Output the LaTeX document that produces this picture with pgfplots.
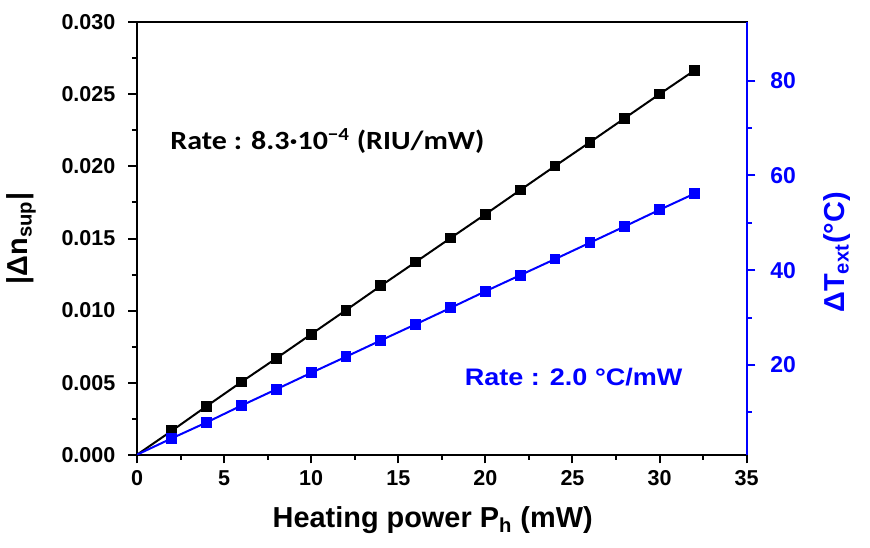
\documentclass[border=0pt]{standalone}
\usepackage{fontspec}
\setmainfont{Liberation Sans}
\newfontfamily\carlito[FakeStretch=1.14]{Carlito}
\newfontfamily\widearial[FakeStretch=1.13]{Liberation Sans}
\usepackage{pgfplots}
\pgfplotsset{compat=1.18}

\pgfplotstableread{
x y
0 0
2 0.00166
4 0.00337
6 0.00505
8 0.00669
10 0.00836
12 0.01003
14 0.01172
16 0.01337
18 0.01503
20 0.01668
22 0.01836
24 0.02003
26 0.02168
28 0.02335
30 0.02502
32 0.02666
}\nsup

\pgfplotstableread{
x t
0 1.08
2 4.54
4 7.90
6 11.45
8 14.88
10 18.35
12 21.75
14 25.20
16 28.60
18 32.05
20 35.55
22 38.95
24 42.35
26 45.80
28 49.25
30 52.75
32 56.15
}\text

\begin{document}
\begin{tikzpicture}
\begin{axis}[
  name=main,
  scale only axis, width=304.85bp, height=216.2bp,
  xmin=0, xmax=35, ymin=0, ymax=0.03,
  xtick={0,5,10,15,20,25,30,35},
  ytick={0,0.005,0.010,0.015,0.020,0.025,0.030},
  minor x tick num=1, minor y tick num=1,
  xtick pos=bottom, ytick pos=left, tick align=outside,
  major tick length=4.3bp, minor tick length=2.6bp,
  axis line style={line width=1bp, -},
  every tick/.append style={black, line width=1bp},
  scaled y ticks=false,
  yticklabel style={xshift=-3bp, /pgf/number format/.cd, fixed, fixed zerofill, precision=3},
  /pgf/number format/assume math mode=true,
  tick label style={font=\fontsize{10.8}{12}\selectfont\bfseries},
  xlabel={Heating power P\textsubscript{h} (mW)},
  ylabel={|Δn\textsubscript{sup}|},
  label style={font=\fontsize{14.5}{16}\selectfont\bfseries},
  xlabel style={at={(axis description cs:0.485,0)}, anchor=base, yshift=-36.5bp},
  ylabel style={at={(axis description cs:-0.19,0.5)}, anchor=center},
  clip=false,
]
\coordinate (sw) at (rel axis cs:0,0);
\coordinate (ne) at (rel axis cs:1,1);
\addplot[black, line width=1bp, mark=square*, mark size=2.2bp, mark indices={2,...,17}]
  table[x=x, y=y] {\nsup};
\node[anchor=west, font=\carlito\fontsize{13.2}{15}\selectfont\bfseries, inner sep=0pt]
  at (axis cs:1.9,0.02177) {Rate : 8.3·10\textsuperscript{−4} (RIU/mW)};
\node[anchor=west, font=\widearial\fontsize{12}{14}\selectfont\bfseries, text=blue, inner sep=0pt]
  at (axis cs:18.8,0.00539) {Rate : 2.0 °C/mW};
\end{axis}

\begin{axis}[
  scale only axis, width=304.85bp, height=216.2bp,
  xmin=0, xmax=35, ymin=1.08, ymax=92.3,
  axis x line=none, axis y line*=right,
  ytick={20,40,60,80}, minor ytick={10,30,50,70},
  tick align=outside,
  major tick length=4.3bp, minor tick length=2.6bp,
  y axis line style={blue, line width=1bp, -},
  every tick/.append style={blue, line width=1bp},
  /pgf/number format/assume math mode=true,
  yticklabel style={text=blue, font=\fontsize{11.5}{13}\selectfont\bfseries, xshift=4bp},
  ylabel={ΔT\textsubscript{ext}(°C)},
  ylabel style={at={(axis description cs:1.148,0.468)}, anchor=center,
    text=blue, font=\fontsize{14.5}{16}\selectfont\bfseries},
]
\addplot[blue, line width=1bp, mark=square*, mark size=2.2bp, mark indices={2,...,17}]
  table[x=x, y=t] {\text};
\end{axis}

\pgfresetboundingbox
\path[use as bounding box] ([shift={(-68.5bp,-46.65bp)}]sw) rectangle ([shift={(61.65bp,11.15bp)}]ne);
\end{tikzpicture}
\end{document}
